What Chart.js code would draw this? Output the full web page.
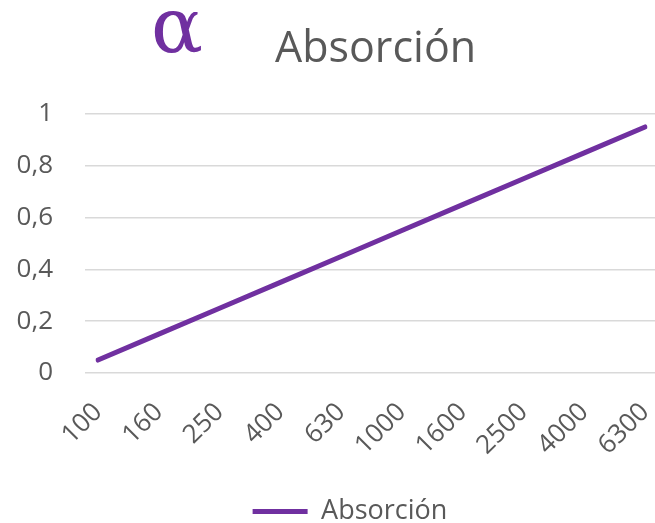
<!DOCTYPE html>
<html>
<head>
<meta charset="utf-8">
<script src="https://cdn.jsdelivr.net/npm/chart.js@4/dist/chart.umd.min.js"></script>
<style>
  html, body { margin: 0; padding: 0; background: #ffffff; }
  #wrap { position: relative; width: 655px; height: 523px; }
  #alpha { position: absolute; left: 151px; top: -13px; font-family: 'DejaVu Serif', serif; font-size: 77px; line-height: 1; color: #7030A0; }
  #title { position: absolute; left: 275px; top: 24px; font-family: 'Open Sans', sans-serif; font-size: 43px; line-height: 1; color: #595959; white-space: nowrap; }
</style>
</head>
<body>
<div id="wrap">
  <canvas id="c" width="655" height="523"></canvas>
  <div id="alpha">α</div>
  <div id="title">Absorción</div>
</div>
<script>
const categories = ['100', '160', '250', '400', '630', '1000', '1600', '2500', '4000', '6300'];
const absorcion = [0.05, 0.15, 0.25, 0.35, 0.45, 0.55, 0.65, 0.75, 0.85, 0.95];
const seriesName = 'Absorción';

const purple = '#7030A0';
const textGray = '#595959';
const gridGray = '#d9d9d9';
const fontFamily = "'Open Sans', sans-serif";

// let the y-axis labels use the space left of the padded layout box
const widenYLabelArea = {
  id: 'widenYLabelArea',
  afterLayout(chart) { chart.scales.y.left = 0; }
};

new Chart(document.getElementById('c'), {
  type: 'line',
  data: {
    labels: categories,
    datasets: [{
      label: seriesName,
      data: absorcion,
      borderColor: purple,
      backgroundColor: purple,
      borderWidth: 5,
      borderCapStyle: 'round',
      pointRadius: 0,
      pointStyle: 'line',
      tension: 0,
      fill: false
    }]
  },
  plugins: [widenYLabelArea],
  options: {
    responsive: false,
    animation: false,
    devicePixelRatio: 1,
    layout: { padding: { top: 114, left: 45, right: 0, bottom: -12 } },
    plugins: {
      title: { display: false },
      tooltip: { enabled: false },
      legend: {
        position: 'bottom',
        labels: {
          usePointStyle: true,
          pointStyle: 'line',
          pointStyleWidth: 55,
          color: textGray,
          font: { family: fontFamily, size: 27 },
          padding: 0
        }
      }
    },
    scales: {
      x: {
        type: 'category',
        offset: false,
        grid: { display: false },
        border: { display: false },
        ticks: {
          autoSkip: false,
          maxRotation: 45,
          minRotation: 45,
          color: textGray,
          font: { family: fontFamily, size: 26 },
          padding: 16
        },
        afterFit: s => { s.height = 125; s.paddingLeft = 0; s.paddingRight = 0; }
      },
      y: {
        min: 0,
        max: 1,
        ticks: {
          stepSize: 0.2,
          padding: 32,
          color: textGray,
          font: { family: fontFamily, size: 26 },
          callback: v => String(Math.round(v * 10) / 10).replace('.', ',')
        },
        grid: { color: gridGray, lineWidth: 1.5, tickLength: 13 },
        border: { display: false },
        afterFit: s => { s.width = 53; }
      },
      y2: {
        position: 'right',
        min: 0,
        max: 1,
        ticks: { stepSize: 0.2, display: false },
        grid: { drawOnChartArea: false, color: gridGray, lineWidth: 1.5, tickLength: 10 },
        border: { display: false },
        afterFit: s => { s.width = 10; }
      }
    }
  }
});
</script>
</body>
</html>
